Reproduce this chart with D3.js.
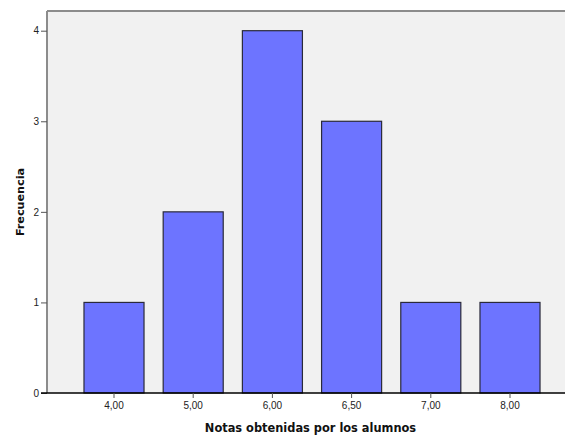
<!DOCTYPE html>
<html><head><meta charset="utf-8">
<script src="https://cdn.jsdelivr.net/npm/d3@7"></script>
<style>body{margin:0;background:#fff}svg{display:block}</style>
</head><body>
<script>
const categories = ["4,00","5,00","6,00","6,50","7,00","8,00"];
const frequencies = [1,2,4,3,1,1];
const yTicks = [0,1,2,3,4];

const W = 565, H = 436;
const svg = d3.select("body").append("svg").attr("width", W).attr("height", H);
const plot = {left: 47, top: 11, right: 565, bottom: 393};

svg.append("rect").attr("x", plot.left).attr("y", plot.top)
  .attr("width", plot.right - plot.left).attr("height", plot.bottom - plot.top)
  .attr("fill", "#f1f1f1");

const x = d3.scaleBand().domain(categories).range([74.4, 549.6]).paddingInner(0.242).paddingOuter(0.121);
const y = d3.scaleLinear().domain([0,4]).range([plot.bottom, 30.7]);

// top border
svg.append("line").attr("x1", plot.left).attr("x2", plot.right).attr("y1", plot.top).attr("y2", plot.top)
  .attr("stroke", "#8c8c8c").attr("stroke-width", 2);

svg.selectAll("rect.bar").data(frequencies).join("rect").attr("class","bar")
  .attr("x", (d,i) => x(categories[i]))
  .attr("y", d => y(d))
  .attr("width", x.bandwidth())
  .attr("height", d => plot.bottom - y(d))
  .attr("fill", "#6d74ff").attr("stroke", "#2a2a3a").attr("stroke-width", 1.2);

// y axis
const yAxis = d3.axisLeft(y).tickValues(yTicks).tickSize(6).tickPadding(2).tickFormat(d3.format("d"));
const ga = svg.append("g").attr("transform", `translate(${plot.left},0)`).call(yAxis);
ga.select(".domain").attr("stroke", "#8c8c8c").attr("stroke-width", 2)
  .attr("d", `M0,${plot.top}V${plot.bottom}`);
ga.selectAll(".tick line").attr("stroke", "#555");
ga.selectAll(".tick text").attr("font-family", "Liberation Sans, Arial, sans-serif").attr("font-size", 10).attr("fill", "#222");

// x axis
const xAxis = d3.axisBottom(x).tickSize(5).tickPadding(4);
const gx = svg.append("g").attr("transform", `translate(0,${plot.bottom})`).call(xAxis);
gx.select(".domain").attr("stroke", "#000").attr("stroke-width", 1.5)
  .attr("d", `M41,0H${plot.right}`);
gx.selectAll(".tick line").attr("stroke", "#555");
gx.selectAll(".tick text").attr("font-family", "Liberation Sans, Arial, sans-serif").attr("font-size", 10).attr("fill", "#222");

svg.append("text").attr("x", 310.5).attr("y", 432).attr("text-anchor", "middle")
  .attr("font-family", "DejaVu Sans, sans-serif").attr("font-weight", "bold").attr("font-size", 11.4)
  .attr("fill", "#111").text("Notas obtenidas por los alumnos");

svg.append("text").attr("transform", "translate(23.5,202) rotate(-90)").attr("text-anchor", "middle")
  .attr("font-family", "DejaVu Sans, sans-serif").attr("font-weight", "bold").attr("font-size", 11.2)
  .attr("fill", "#111").text("Frecuencia");
</script>
</body></html>
